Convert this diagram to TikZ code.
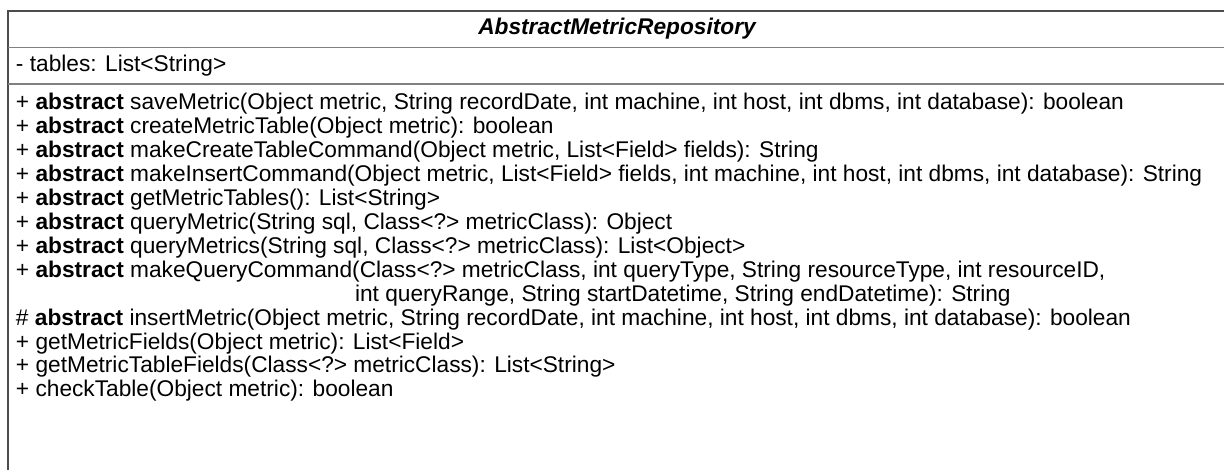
\documentclass[tikz,border=0pt]{standalone}
\usepackage{fontspec}
\setmainfont{Liberation Sans}
\begin{document}
\begin{tikzpicture}[x=0.5pt,y=-0.5pt,
  umltext/.style={anchor=base west,inner sep=0pt,outer sep=0pt,text=black,
    font=\fontsize{11.35pt}{12pt}\selectfont},
  umltitle/.style={anchor=base,inner sep=0pt,outer sep=0pt,text=black,
    font=\fontsize{11.35pt}{12pt}\selectfont\bfseries\itshape},
  border/.style={draw=black!70,line width=0.75pt},
  divider/.style={draw=black!50,line width=0.85pt}]
\useasboundingbox (0,0) rectangle (1224,470);
\clip (0,0) rectangle (1224,470);
\fill[white] (0,0) rectangle (1224,470);
% class frame (runs past the right and bottom edges)
\coordinate (tl) at (8,11);
\coordinate (tr) at (1228,11);
\coordinate (bl) at (8,480);
\coordinate (br) at (1228,480);
\draw[border] (bl) -- (tl) -- (tr) -- (br);
% compartment dividers
\coordinate (d1l) at (8,47.5);  \coordinate (d1r) at (1228,47.5);
\coordinate (d2l) at (8,84);    \coordinate (d2r) at (1228,84);
\draw[divider] (d1l) -- (d1r);
\draw[divider] (d2l) -- (d2r);
% name compartment
\node[umltitle] (name) at (617,35) {AbstractMetricRepository};
% attribute compartment
\node[umltext] (attr) at (16,72) {- tables: List<String>};
% operation compartment
\def\lh{23.9}
\node[umltext] (op1) at (16,110) {+ \textbf{abstract} saveMetric(Object metric, String recordDate, int machine, int host, int dbms, int database): boolean};
\node[umltext] (op2) at (16,110+1*\lh) {+ \textbf{abstract} createMetricTable(Object metric): boolean};
\node[umltext] (op3) at (16,110+2*\lh) {+ \textbf{abstract} makeCreateTableCommand(Object metric, List<Field> fields): String};
\node[umltext] (op4) at (16,110+3*\lh) {+ \textbf{abstract} makeInsertCommand(Object metric, List<Field> fields, int machine, int host, int dbms, int database): String};
\node[umltext] (op5) at (16,110+4*\lh) {+ \textbf{abstract} getMetricTables(): List<String>};
\node[umltext] (op6) at (16,110+5*\lh) {+ \textbf{abstract} queryMetric(String sql, Class<?> metricClass): Object};
\node[umltext] (op7) at (16,110+6*\lh) {+ \textbf{abstract} queryMetrics(String sql, Class<?> metricClass): List<Object>};
\node[umltext] (op8) at (16,110+7*\lh) {+ \textbf{abstract} makeQueryCommand(Class<?> metricClass, int queryType, String resourceType, int resourceID,};
\node[umltext] (op8b) at (355,110+8*\lh) {int queryRange, String startDatetime, String endDatetime): String};
\node[umltext] (op9) at (16,110+9*\lh) {\# \textbf{abstract} insertMetric(Object metric, String recordDate, int machine, int host, int dbms, int database): boolean};
\node[umltext] (op10) at (16,110+10*\lh) {+ getMetricFields(Object metric): List<Field>};
\node[umltext] (op11) at (16,110+11*\lh) {+ getMetricTableFields(Class<?> metricClass): List<String>};
\node[umltext] (op12) at (16,110+12*\lh) {+ checkTable(Object metric): boolean};
\end{tikzpicture}
\end{document}
